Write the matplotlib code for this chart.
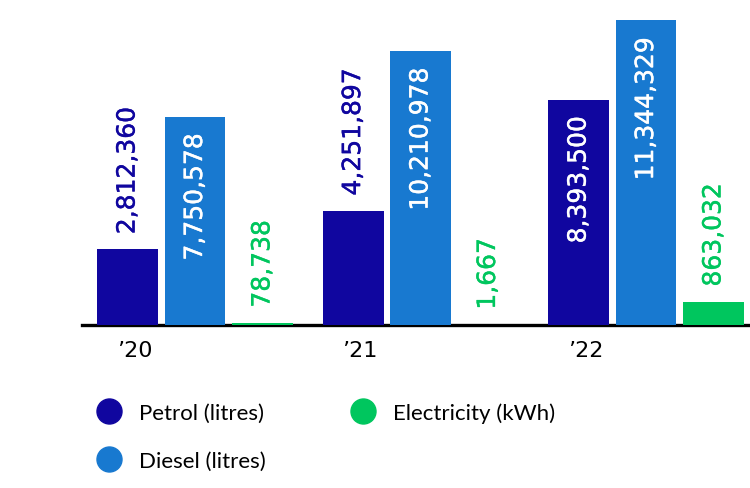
import numpy as np
import matplotlib
matplotlib.use("Agg")
import matplotlib.pyplot as plt
import matplotlib.patheffects as pe
from matplotlib.lines import Line2D

years = ["\u201920", "\u201921", "\u201922"]
series = ["Petrol (litres)", "Diesel (litres)", "Electricity (kWh)"]
petrol = [2812360, 4251897, 8393500]
diesel = [7750578, 10210978, 11344329]
electricity = [78738, 1667, 863032]

colors = ["#10069f", "#1879d0", "#00c65e"]

fig = plt.figure(figsize=(7.5, 4.89), dpi=100)
ax = fig.add_axes([82 / 750, 163 / 489, 668 / 750, 326 / 489])

x = np.arange(len(years))
width = 0.27
step = 0.299

for i, (vals, col) in enumerate(zip([petrol, diesel, electricity], colors)):
    xpos = x + (i - 1) * step
    ax.bar(xpos, vals, width=width, color=col, zorder=2)
    for xp, v in zip(xpos, vals):
        lab = f"{v:,}"
        # big bars get the number inside, in white
        if v > 6e6:
            tc, off, va = "white", -12, "top"
        else:
            tc, off, va = col, 11, "bottom"
        ax.annotate(lab, (xp, v), xytext=(0, off), textcoords="offset points",
                    rotation=90, ha="center", va=va, color=tc,
                    fontsize=18, family="DejaVu Sans", zorder=4,
                    path_effects=[pe.withStroke(linewidth=0.3, foreground=tc)])

ax.set_xlim(-0.501, 2.461)
ax.set_ylim(0, 12.14e6)
ax.set_xticks(x - step + 0.03)
ax.set_xticklabels(years, fontsize=16, family="DejaVu Sans")
ax.tick_params(axis="x", length=0, pad=11)
ax.set_yticks([])
for s in ["top", "right", "left"]:
    ax.spines[s].set_visible(False)
ax.spines["bottom"].set_linewidth(2.4)
ax.spines["bottom"].set_color("black")
ax.spines["bottom"].set_zorder(1)

handles = [Line2D([], [], marker="o", linestyle="none", markersize=18,
                  markerfacecolor=c, markeredgecolor=c) for c in colors]
fig.legend(handles, series, loc="upper left", bbox_to_anchor=(98 / 750, 1 - 403 / 489),
           ncol=2, frameon=False, prop={"family": "Lato", "size": 16},
           handlelength=1.0, handletextpad=0.85, columnspacing=3.85,
           labelspacing=1.27, borderpad=0, borderaxespad=0)

fig.savefig("out.png", dpi=100)
